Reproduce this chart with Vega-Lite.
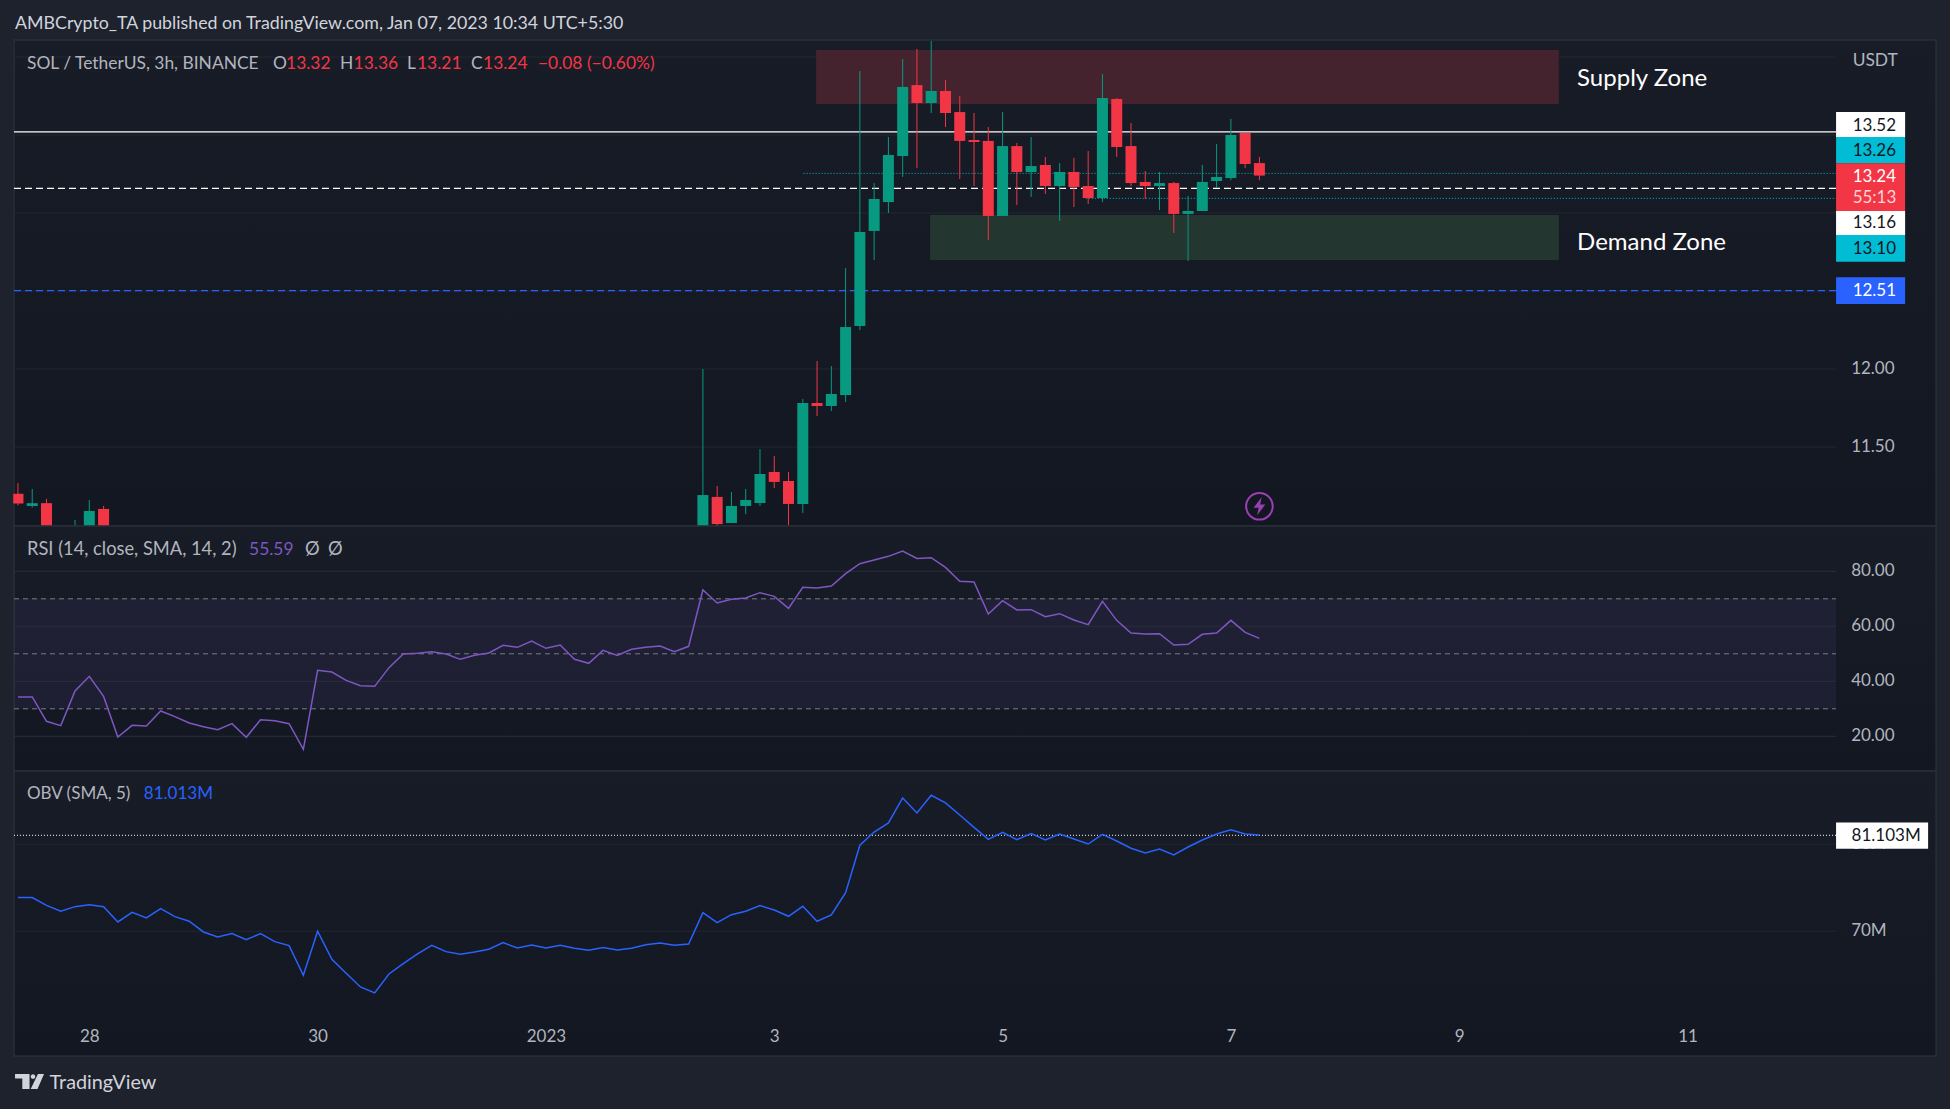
{
  "$schema": "https://vega.github.io/schema/vega-lite/v6.json",
  "width": 1950,
  "height": 1109,
  "autosize": {"type": "none"},
  "padding": 0,
  "background": "#1e222d",
  "config": {
    "view": {"stroke": null},
    "text": {"font": "Lato"},
    "axis": {"labelFont": "Lato", "labelFontSize": 17, "labelColor": "#b2b5be", "domain": false, "ticks": false, "grid": false, "title": null, "labelOverlap": false, "labelFlush": false}
  },
  "datasets": {
    "candles": [
      {"t":"2022-12-27T09:00Z","o":11.2,"h":11.27,"l":11.125,"c":11.138},
      {"t":"2022-12-27T12:00Z","o":11.122,"h":11.231,"l":11.112,"c":11.14},
      {"t":"2022-12-27T15:00Z","o":11.14,"h":11.167,"l":10.995,"c":10.995},
      {"t":"2022-12-27T21:00Z","o":10.995,"h":11.032,"l":10.995,"c":10.995},
      {"t":"2022-12-28T00:00Z","o":10.995,"h":11.16,"l":10.995,"c":11.09},
      {"t":"2022-12-28T03:00Z","o":11.103,"h":11.122,"l":10.995,"c":10.995},
      {"t":"2023-01-02T09:00Z","o":10.994,"h":12.0,"l":10.994,"c":11.192},
      {"t":"2023-01-02T12:00Z","o":11.18,"h":11.25,"l":10.994,"c":11.006},
      {"t":"2023-01-02T15:00Z","o":11.013,"h":11.212,"l":11.013,"c":11.122},
      {"t":"2023-01-02T18:00Z","o":11.122,"h":11.231,"l":11.07,"c":11.16},
      {"t":"2023-01-02T21:00Z","o":11.141,"h":11.487,"l":11.122,"c":11.327},
      {"t":"2023-01-03T00:00Z","o":11.34,"h":11.442,"l":11.237,"c":11.276},
      {"t":"2023-01-03T03:00Z","o":11.282,"h":11.34,"l":11.0,"c":11.135},
      {"t":"2023-01-03T06:00Z","o":11.135,"h":11.808,"l":11.077,"c":11.782},
      {"t":"2023-01-03T09:00Z","o":11.782,"h":12.051,"l":11.699,"c":11.763},
      {"t":"2023-01-03T12:00Z","o":11.763,"h":12.019,"l":11.731,"c":11.84},
      {"t":"2023-01-03T15:00Z","o":11.833,"h":12.647,"l":11.788,"c":12.269},
      {"t":"2023-01-03T18:00Z","o":12.276,"h":13.91,"l":12.25,"c":12.878},
      {"t":"2023-01-03T21:00Z","o":12.885,"h":13.192,"l":12.699,"c":13.09},
      {"t":"2023-01-04T00:00Z","o":13.07,"h":13.487,"l":13.0,"c":13.372},
      {"t":"2023-01-04T03:00Z","o":13.365,"h":13.987,"l":13.231,"c":13.808},
      {"t":"2023-01-04T06:00Z","o":13.82,"h":14.051,"l":13.288,"c":13.705},
      {"t":"2023-01-04T09:00Z","o":13.705,"h":14.103,"l":13.641,"c":13.782},
      {"t":"2023-01-04T12:00Z","o":13.782,"h":13.853,"l":13.551,"c":13.641},
      {"t":"2023-01-04T15:00Z","o":13.647,"h":13.75,"l":13.218,"c":13.462},
      {"t":"2023-01-04T18:00Z","o":13.468,"h":13.641,"l":13.173,"c":13.455},
      {"t":"2023-01-04T21:00Z","o":13.462,"h":13.551,"l":12.827,"c":12.981},
      {"t":"2023-01-05T00:00Z","o":12.981,"h":13.647,"l":12.981,"c":13.429},
      {"t":"2023-01-05T03:00Z","o":13.429,"h":13.449,"l":13.051,"c":13.263},
      {"t":"2023-01-05T06:00Z","o":13.263,"h":13.487,"l":13.103,"c":13.301},
      {"t":"2023-01-05T09:00Z","o":13.308,"h":13.359,"l":13.122,"c":13.173},
      {"t":"2023-01-05T12:00Z","o":13.173,"h":13.32,"l":12.949,"c":13.263},
      {"t":"2023-01-05T15:00Z","o":13.263,"h":13.353,"l":13.038,"c":13.167},
      {"t":"2023-01-05T18:00Z","o":13.173,"h":13.397,"l":13.058,"c":13.096},
      {"t":"2023-01-05T21:00Z","o":13.096,"h":13.891,"l":13.07,"c":13.737},
      {"t":"2023-01-06T00:00Z","o":13.731,"h":13.737,"l":13.359,"c":13.423},
      {"t":"2023-01-06T03:00Z","o":13.429,"h":13.577,"l":13.173,"c":13.192},
      {"t":"2023-01-06T06:00Z","o":13.199,"h":13.269,"l":13.09,"c":13.173},
      {"t":"2023-01-06T09:00Z","o":13.173,"h":13.263,"l":13.019,"c":13.192},
      {"t":"2023-01-06T12:00Z","o":13.192,"h":13.199,"l":12.872,"c":12.994},
      {"t":"2023-01-06T15:00Z","o":12.994,"h":13.109,"l":12.692,"c":13.013},
      {"t":"2023-01-06T18:00Z","o":13.013,"h":13.308,"l":13.013,"c":13.199},
      {"t":"2023-01-06T21:00Z","o":13.205,"h":13.442,"l":13.16,"c":13.231},
      {"t":"2023-01-07T00:00Z","o":13.224,"h":13.603,"l":13.21,"c":13.5},
      {"t":"2023-01-07T03:00Z","o":13.513,"h":13.513,"l":13.288,"c":13.314},
      {"t":"2023-01-07T06:00Z","o":13.32,"h":13.36,"l":13.21,"c":13.24}
    ],
    "indicators": [
      {"t":"2022-12-27T09:00Z","rsi":34.3,"obv":73.87},
      {"t":"2022-12-27T12:00Z","rsi":34.3,"obv":73.87},
      {"t":"2022-12-27T15:00Z","rsi":25.45,"obv":72.98},
      {"t":"2022-12-27T18:00Z","rsi":23.87,"obv":72.3},
      {"t":"2022-12-27T21:00Z","rsi":36.47,"obv":72.83},
      {"t":"2022-12-28T00:00Z","rsi":41.8,"obv":73.06},
      {"t":"2022-12-28T03:00Z","rsi":34.5,"obv":72.83},
      {"t":"2022-12-28T06:00Z","rsi":19.75,"obv":71.07},
      {"t":"2022-12-28T09:00Z","rsi":24,"obv":72.18},
      {"t":"2022-12-28T12:00Z","rsi":23.75,"obv":71.53},
      {"t":"2022-12-28T15:00Z","rsi":29.2,"obv":72.6},
      {"t":"2022-12-28T18:00Z","rsi":27.14,"obv":71.68},
      {"t":"2022-12-28T21:00Z","rsi":24.84,"obv":71.15},
      {"t":"2022-12-29T00:00Z","rsi":23.5,"obv":69.92},
      {"t":"2022-12-29T03:00Z","rsi":22.41,"obv":69.34},
      {"t":"2022-12-29T06:00Z","rsi":24.59,"obv":69.73},
      {"t":"2022-12-29T09:00Z","rsi":19.63,"obv":69.04},
      {"t":"2022-12-29T12:00Z","rsi":26.05,"obv":69.73},
      {"t":"2022-12-29T15:00Z","rsi":25.68,"obv":68.81},
      {"t":"2022-12-29T18:00Z","rsi":24.59,"obv":68.35},
      {"t":"2022-12-29T21:00Z","rsi":15.26,"obv":64.94},
      {"t":"2022-12-30T00:00Z","rsi":43.99,"obv":70.0},
      {"t":"2022-12-30T03:00Z","rsi":43.38,"obv":66.78},
      {"t":"2022-12-30T06:00Z","rsi":40.35,"obv":65.17},
      {"t":"2022-12-30T09:00Z","rsi":38.41,"obv":63.6},
      {"t":"2022-12-30T12:00Z","rsi":38.17,"obv":62.91},
      {"t":"2022-12-30T15:00Z","rsi":44.96,"obv":65.09},
      {"t":"2022-12-30T18:00Z","rsi":49.93,"obv":66.28},
      {"t":"2022-12-30T21:00Z","rsi":50.17,"obv":67.39},
      {"t":"2022-12-31T00:00Z","rsi":50.77,"obv":68.39},
      {"t":"2022-12-31T03:00Z","rsi":49.93,"obv":67.66},
      {"t":"2022-12-31T06:00Z","rsi":47.99,"obv":67.35},
      {"t":"2022-12-31T09:00Z","rsi":49.44,"obv":67.62},
      {"t":"2022-12-31T12:00Z","rsi":50.29,"obv":67.93},
      {"t":"2022-12-31T15:00Z","rsi":53.08,"obv":68.69},
      {"t":"2022-12-31T18:00Z","rsi":52.35,"obv":68.08},
      {"t":"2022-12-31T21:00Z","rsi":54.65,"obv":68.43},
      {"t":"2023-01-01T00:00Z","rsi":51.99,"obv":68.08},
      {"t":"2023-01-01T03:00Z","rsi":53.2,"obv":68.39},
      {"t":"2023-01-01T06:00Z","rsi":47.99,"obv":68.05},
      {"t":"2023-01-01T09:00Z","rsi":46.53,"obv":67.82},
      {"t":"2023-01-01T12:00Z","rsi":51.26,"obv":68.12},
      {"t":"2023-01-01T15:00Z","rsi":49.44,"obv":67.85},
      {"t":"2023-01-01T18:00Z","rsi":51.63,"obv":68.05},
      {"t":"2023-01-01T21:00Z","rsi":52.35,"obv":68.46},
      {"t":"2023-01-02T00:00Z","rsi":52.84,"obv":68.66},
      {"t":"2023-01-02T03:00Z","rsi":50.77,"obv":68.39},
      {"t":"2023-01-02T06:00Z","rsi":52.72,"obv":68.54},
      {"t":"2023-01-02T09:00Z","rsi":73.2,"obv":72.14},
      {"t":"2023-01-02T12:00Z","rsi":68.47,"obv":70.99},
      {"t":"2023-01-02T15:00Z","rsi":69.8,"obv":71.91},
      {"t":"2023-01-02T18:00Z","rsi":70.3,"obv":72.3},
      {"t":"2023-01-02T21:00Z","rsi":72.23,"obv":72.95},
      {"t":"2023-01-03T00:00Z","rsi":70.9,"obv":72.45},
      {"t":"2023-01-03T03:00Z","rsi":66.53,"obv":71.72},
      {"t":"2023-01-03T06:00Z","rsi":74.17,"obv":72.87},
      {"t":"2023-01-03T09:00Z","rsi":73.93,"obv":71.15},
      {"t":"2023-01-03T12:00Z","rsi":74.65,"obv":71.87},
      {"t":"2023-01-03T15:00Z","rsi":79.14,"obv":74.44},
      {"t":"2023-01-03T18:00Z","rsi":82.77,"obv":79.89},
      {"t":"2023-01-03T21:00Z","rsi":84.1,"obv":81.41},
      {"t":"2023-01-04T00:00Z","rsi":85.44,"obv":82.45},
      {"t":"2023-01-04T03:00Z","rsi":87.38,"obv":85.32},
      {"t":"2023-01-04T06:00Z","rsi":84.7,"obv":83.6},
      {"t":"2023-01-04T09:00Z","rsi":84.96,"obv":85.63},
      {"t":"2023-01-04T12:00Z","rsi":81.44,"obv":84.75},
      {"t":"2023-01-04T15:00Z","rsi":76.35,"obv":83.37},
      {"t":"2023-01-04T18:00Z","rsi":76.1,"obv":81.95},
      {"t":"2023-01-04T21:00Z","rsi":64.47,"obv":80.57},
      {"t":"2023-01-05T00:00Z","rsi":69.32,"obv":81.38},
      {"t":"2023-01-05T03:00Z","rsi":65.93,"obv":80.53},
      {"t":"2023-01-05T06:00Z","rsi":66.05,"obv":81.22},
      {"t":"2023-01-05T09:00Z","rsi":63.5,"obv":80.49},
      {"t":"2023-01-05T12:00Z","rsi":64.59,"obv":81.18},
      {"t":"2023-01-05T15:00Z","rsi":62.29,"obv":80.61},
      {"t":"2023-01-05T18:00Z","rsi":60.59,"obv":80.03},
      {"t":"2023-01-05T21:00Z","rsi":69.08,"obv":81.15},
      {"t":"2023-01-06T00:00Z","rsi":62.17,"obv":80.38},
      {"t":"2023-01-06T03:00Z","rsi":57.56,"obv":79.54},
      {"t":"2023-01-06T06:00Z","rsi":57.2,"obv":79.0},
      {"t":"2023-01-06T09:00Z","rsi":57.32,"obv":79.46},
      {"t":"2023-01-06T12:00Z","rsi":53.2,"obv":78.77},
      {"t":"2023-01-06T15:00Z","rsi":53.44,"obv":79.69},
      {"t":"2023-01-06T18:00Z","rsi":57.08,"obv":80.49},
      {"t":"2023-01-06T21:00Z","rsi":57.56,"obv":81.18},
      {"t":"2023-01-07T00:00Z","rsi":62.17,"obv":81.68},
      {"t":"2023-01-07T03:00Z","rsi":57.81,"obv":81.18},
      {"t":"2023-01-07T06:00Z","rsi":55.59,"obv":81.07}
    ],
    "days": [
      {"t":"2022-12-28T00:00Z"},{"t":"2022-12-30T00:00Z"},{"t":"2023-01-01T00:00Z"},{"t":"2023-01-03T00:00Z"},
      {"t":"2023-01-05T00:00Z"},{"t":"2023-01-07T00:00Z"},{"t":"2023-01-09T00:00Z"},{"t":"2023-01-11T00:00Z"}
    ]
  },
  "encoding": {
    "x": {
      "field": "t",
      "type": "temporal",
      "scale": {"type": "utc", "padding": 0, "domain": ["2022-12-27T05:13:26Z", "2023-01-13T07:11:10Z"]},
      "axis": {
        "orient": "bottom",
        "zindex": 1,
        "values": ["2022-12-28T00:00:00Z","2022-12-30T00:00:00Z","2023-01-01T00:00:00Z","2023-01-03T00:00:00Z","2023-01-05T00:00:00Z","2023-01-07T00:00:00Z","2023-01-09T00:00:00Z","2023-01-11T00:00:00Z"],
        "labelExpr": "utcdate(datum.value) == 1 ? '2023' : '' + utcdate(datum.value)",
        "labelPadding": -81
      }
    }
  },
  "layer": [
    {
      "encoding": {
        "y": {"field": "price", "type": "quantitative", "scale": {"domain": [7.2564, 14.3654], "zero": false, "nice": false}, "axis": null}
      },
      "layer": [
        {
          "data": {"values": [{"t":"2022-12-27T08:10Z","t2":"2023-01-13T04:16Z","price":14.109,"price2":10.994}]},
          "mark": {"type": "rect", "stroke": "#2a2e39", "strokeWidth": 1.5,
            "fill": {"gradient": "linear", "x1": 0, "y1": 0, "x2": 0, "y2": 1, "stops": [{"offset": 0, "color": "#181c27"}, {"offset": 1, "color": "#131722"}]}},
          "encoding": {"x2": {"field": "t2"}, "y2": {"field": "price2"}}
        },
        {
          "data": {"name": "days"},
          "mark": {"type": "rule", "color": "#22262f", "strokeWidth": 1},
          "encoding": {"y": {"datum": 14.109, "type": "quantitative"}, "y2": {"datum": 10.994}}
        },
        {
          "data": {"values": [
            {"price":14,"t":"2022-12-27T08:10Z","t2":"2023-01-12T07:14Z"},
            {"price":13.5,"t":"2022-12-27T08:10Z","t2":"2023-01-12T07:14Z"},
            {"price":13,"t":"2022-12-27T08:10Z","t2":"2023-01-12T07:14Z"},
            {"price":12.5,"t":"2022-12-27T08:10Z","t2":"2023-01-12T07:14Z"},
            {"price":12,"t":"2022-12-27T08:10Z","t2":"2023-01-12T07:14Z"},
            {"price":11.5,"t":"2022-12-27T08:10Z","t2":"2023-01-12T07:14Z"}
          ]},
          "mark": {"type": "rule", "color": "#22262f", "strokeWidth": 1},
          "encoding": {"x2": {"field": "t2"}}
        },
        {
          "data": {"values": [
            {"t":"2023-01-12T10:24Z","price":12,"label":"12.00"},
            {"t":"2023-01-12T10:24Z","price":11.5,"label":"11.50"}
          ]},
          "mark": {"type": "text", "align": "left", "baseline": "middle", "fontSize": 17, "color": "#b2b5be"},
          "encoding": {"text": {"field": "label"}}
        },
        {
          "data": {"values": [{"t":"2023-01-03T08:48Z","t2":"2023-01-09T20:57Z","price":14.045,"price2":13.699}]},
          "mark": {"type": "rect", "color": "#45232e"},
          "encoding": {"x2": {"field": "t2"}, "y2": {"field": "price2"}}
        },
        {
          "data": {"values": [{"t":"2023-01-04T08:46Z","t2":"2023-01-09T20:57Z","price":12.987,"price2":12.699}]},
          "mark": {"type": "rect", "color": "#233630"},
          "encoding": {"x2": {"field": "t2"}, "y2": {"field": "price2"}}
        },
        {
          "data": {"values": [{"price":13.52,"t":"2022-12-27T08:10Z","t2":"2023-01-12T07:14Z"}]},
          "mark": {"type": "rule", "color": "#ffffff", "strokeWidth": 1.3},
          "encoding": {"x2": {"field": "t2"}}
        },
        {
          "data": {"values": [{"price":13.158,"t":"2022-12-27T08:10Z","t2":"2023-01-12T07:14Z"}]},
          "mark": {"type": "rule", "color": "#ffffff", "strokeWidth": 1.3, "strokeDash": [7, 4]},
          "encoding": {"x2": {"field": "t2"}}
        },
        {
          "data": {"values": [{"price":12.502,"t":"2022-12-27T08:10Z","t2":"2023-01-12T07:14Z"}]},
          "mark": {"type": "rule", "color": "#2962ff", "strokeWidth": 1.3, "strokeDash": [7, 4]},
          "encoding": {"x2": {"field": "t2"}}
        },
        {
          "data": {"values": [
            {"price":13.254,"t":"2023-01-03T06:10Z","t2":"2023-01-12T07:14Z"},
            {"price":13.094,"t":"2023-01-05T17:30Z","t2":"2023-01-12T07:14Z"}
          ]},
          "mark": {"type": "rule", "color": "#00bcd4", "strokeWidth": 1, "strokeDash": [1, 2]},
          "encoding": {"x2": {"field": "t2"}}
        },
        {
          "data": {"name": "candles"},
          "mark": {"type": "rule", "strokeWidth": 1},
          "encoding": {
            "y": {"field": "l", "type": "quantitative"},
            "y2": {"field": "h"},
            "color": {"condition": {"test": "datum.c >= datum.o", "value": "#089981"}, "value": "#f23645"}
          }
        },
        {
          "data": {"name": "candles"},
          "mark": {"type": "bar", "size": 11},
          "encoding": {
            "y": {"field": "o", "type": "quantitative"},
            "y2": {"field": "c"},
            "color": {"condition": {"test": "datum.c >= datum.o", "value": "#089981"}, "value": "#f23645"}
          }
        },
        {
          "data": {"values": [{"t":"2022-12-27T05:13:26Z","t2":"2022-12-27T08:00Z","price":14.109,"price2":10.9}]},
          "mark": {"type": "rect", "color": "#1e222d"},
          "encoding": {"x2": {"field": "t2"}, "y2": {"field": "price2"}}
        },
        {
          "data": {"values": [
            {"t":"2023-01-12T07:14Z","t2":"2023-01-12T21:45Z","price":13.647,"price2":13.487,"kind":"last"},
            {"t":"2023-01-12T07:14Z","t2":"2023-01-12T21:45Z","price":13.487,"price2":13.319,"kind":"level"},
            {"t":"2023-01-12T07:14Z","t2":"2023-01-12T21:45Z","price":13.319,"price2":13.013,"kind":"close"},
            {"t":"2023-01-12T07:14Z","t2":"2023-01-12T21:45Z","price":13.013,"price2":12.859,"kind":"last"},
            {"t":"2023-01-12T07:14Z","t2":"2023-01-12T21:45Z","price":12.859,"price2":12.688,"kind":"level"},
            {"t":"2023-01-12T07:14Z","t2":"2023-01-12T21:45Z","price":12.588,"price2":12.417,"kind":"blue"}
          ]},
          "mark": {"type": "rect"},
          "encoding": {
            "x2": {"field": "t2"},
            "y2": {"field": "price2"},
            "color": {"field": "kind", "type": "nominal", "legend": null,
              "scale": {"domain": ["last", "level", "close", "blue"], "range": ["#ffffff", "#00bcd4", "#f23645", "#2962ff"]}}
          }
        },
        {
          "data": {"values": [
            {"t":"2023-01-12T10:43Z","price":13.558,"label":"13.52"},
            {"t":"2023-01-12T10:43Z","price":13.399,"label":"13.26"},
            {"t":"2023-01-12T10:43Z","price":12.938,"label":"13.16"},
            {"t":"2023-01-12T10:43Z","price":12.769,"label":"13.10"}
          ]},
          "mark": {"type": "text", "align": "left", "baseline": "middle", "fontSize": 17, "color": "#131722"},
          "encoding": {"text": {"field": "label"}}
        },
        {
          "data": {"values": [
            {"t":"2023-01-12T10:43Z","price":13.233,"label":"13.24"},
            {"t":"2023-01-12T10:43Z","price":12.5,"label":"12.51"}
          ]},
          "mark": {"type": "text", "align": "left", "baseline": "middle", "fontSize": 17, "color": "#ffffff"},
          "encoding": {"text": {"field": "label"}}
        },
        {
          "data": {"values": [{"t":"2023-01-12T10:43Z","price":13.098,"label":"55:13"}]},
          "mark": {"type": "text", "align": "left", "baseline": "middle", "fontSize": 17, "color": "#fbd5d8"},
          "encoding": {"text": {"field": "label"}}
        },
        {
          "data": {"values": [
            {"t":"2023-01-10T00:47Z","price":13.859,"label":"Supply Zone"},
            {"t":"2023-01-10T00:47Z","price":12.81,"label":"Demand Zone"}
          ]},
          "mark": {"type": "text", "align": "left", "baseline": "middle", "fontSize": 24, "color": "#ffffff"},
          "encoding": {"text": {"field": "label"}}
        },
        {
          "data": {"values": [
            {"t":"2022-12-27T08:23Z","price":14.212,"label":"AMBCrypto_TA published on TradingView.com, Jan 07, 2023 10:34 UTC+5:30"}
          ]},
          "mark": {"type": "text", "align": "left", "baseline": "middle", "fontSize": 17.8, "color": "#d1d4dc"},
          "encoding": {"text": {"field": "label"}}
        },
        {
          "data": {"values": [
            {"t":"2022-12-27T15:39Z","price":7.423,"label":"TradingView"}
          ]},
          "mark": {"type": "text", "align": "left", "baseline": "middle", "fontSize": 19.8, "color": "#d1d4dc"},
          "encoding": {"text": {"field": "label"}}
        },
        {
          "data": {"values": [
            {"t":"2022-12-27T10:54Z","price":13.955,"label":"SOL / TetherUS, 3h, BINANCE"},
            {"t":"2022-12-29T14:37Z","price":13.955,"label":"O"},
            {"t":"2022-12-30T04:43Z","price":13.955,"label":"H"},
            {"t":"2022-12-30T18:48Z","price":13.955,"label":"L"},
            {"t":"2022-12-31T08:15Z","price":13.955,"label":"C"},
            {"t":"2023-01-12T10:43Z","price":13.976,"label":"USDT"}
          ]},
          "mark": {"type": "text", "align": "left", "baseline": "middle", "fontSize": 17.4, "color": "#b2b5be"},
          "encoding": {"text": {"field": "label"}}
        },
        {
          "data": {"values": [
            {"t":"2022-12-29T17:22Z","price":13.955,"label":"13.32"},
            {"t":"2022-12-30T07:34Z","price":13.955,"label":"13.36"},
            {"t":"2022-12-30T20:54Z","price":13.955,"label":"13.21"},
            {"t":"2022-12-31T10:47Z","price":13.955,"label":"13.24"},
            {"t":"2022-12-31T22:20Z","price":13.955,"label":"−0.08 (−0.60%)"}
          ]},
          "mark": {"type": "text", "align": "left", "baseline": "middle", "fontSize": 17.4, "color": "#f23645"},
          "encoding": {"text": {"field": "label"}}
        },
        {
          "data": {"values": [{"t":"2022-12-27T11:26Z","price":7.433}]},
          "mark": {"type": "point", "filled": true, "opacity": 1, "color": "#d1d4dc", "size": 841,
            "shape": "M-1,-.517L0,-.517L0,.517L-.5,.517L-.5,-.207L-1,-.207ZM.08,-.34a.16,.16 0 1,0 .32,0a.16,.16 0 1,0 -.32,0ZM.58,-.517L1,-.517L.55,.517L.08,.517Z"}
        },
        {
          "data": {"values": [{"t":"2023-01-07T06:00Z","price":11.12}]},
          "mark": {"type": "point", "shape": "circle", "filled": false, "opacity": 1, "color": "#9c3fb5", "strokeWidth": 2, "size": 707}
        },
        {
          "data": {"values": [{"t":"2023-01-07T06:00Z","price":11.12}]},
          "mark": {"type": "point", "filled": true, "opacity": 1, "color": "#9c3fb5", "size": 324,
            "shape": "M.25,-1L-.65,.15L-.08,.15L-.25,1L.65,-.2L.08,-.2Z"}
        }
      ]
    },
    {
      "encoding": {
        "y": {"field": "rsi", "type": "quantitative", "scale": {"domain": [-115.53, 287.75], "zero": false, "nice": false}, "axis": null}
      },
      "layer": [
        {
          "data": {"values": [{"t":"2022-12-27T08:10Z","t2":"2023-01-13T04:16Z","rsi":96.47,"rsi2":7.38}]},
          "mark": {"type": "rect", "stroke": "#2a2e39", "strokeWidth": 1.5,
            "fill": {"gradient": "linear", "x1": 0, "y1": 0, "x2": 0, "y2": 1, "stops": [{"offset": 0, "color": "#181c27"}, {"offset": 1, "color": "#131722"}]}},
          "encoding": {"x2": {"field": "t2"}, "y2": {"field": "rsi2"}}
        },
        {
          "data": {"values": [{"t":"2022-12-27T08:10Z","t2":"2023-01-12T07:14Z","rsi":70,"rsi2":30}]},
          "mark": {"type": "rect", "color": "#7e57c2", "opacity": 0.1},
          "encoding": {"x2": {"field": "t2"}, "y2": {"field": "rsi2"}}
        },
        {
          "data": {"name": "days"},
          "mark": {"type": "rule", "color": "#22262f", "strokeWidth": 1},
          "encoding": {"y": {"datum": 96.47, "type": "quantitative"}, "y2": {"datum": 7.38}}
        },
        {
          "data": {"values": [
            {"rsi":80,"t":"2022-12-27T08:10Z","t2":"2023-01-12T07:14Z"},
            {"rsi":60,"t":"2022-12-27T08:10Z","t2":"2023-01-12T07:14Z"},
            {"rsi":40,"t":"2022-12-27T08:10Z","t2":"2023-01-12T07:14Z"},
            {"rsi":20,"t":"2022-12-27T08:10Z","t2":"2023-01-12T07:14Z"}
          ]},
          "mark": {"type": "rule", "color": "#2a2e39", "strokeWidth": 1},
          "encoding": {"x2": {"field": "t2"}}
        },
        {
          "data": {"values": [
            {"rsi":70,"t":"2022-12-27T08:10Z","t2":"2023-01-12T07:14Z"},
            {"rsi":50,"t":"2022-12-27T08:10Z","t2":"2023-01-12T07:14Z"},
            {"rsi":30,"t":"2022-12-27T08:10Z","t2":"2023-01-12T07:14Z"}
          ]},
          "mark": {"type": "rule", "color": "#787b86", "strokeWidth": 1, "strokeDash": [5, 4]},
          "encoding": {"x2": {"field": "t2"}}
        },
        {
          "data": {"values": [
            {"t":"2023-01-12T10:24Z","rsi":80,"label":"80.00"},
            {"t":"2023-01-12T10:24Z","rsi":60,"label":"60.00"},
            {"t":"2023-01-12T10:24Z","rsi":40,"label":"40.00"},
            {"t":"2023-01-12T10:24Z","rsi":20,"label":"20.00"}
          ]},
          "mark": {"type": "text", "align": "left", "baseline": "middle", "fontSize": 17, "color": "#b2b5be"},
          "encoding": {"text": {"field": "label"}}
        },
        {
          "data": {"name": "indicators"},
          "mark": {"type": "line", "color": "#7e57c2", "strokeWidth": 1.5, "interpolate": "linear"}
        },
        {
          "data": {"values": [{"t":"2022-12-27T10:54Z","rsi":87.75,"label":"RSI (14, close, SMA, 14, 2)"},
            {"t":"2022-12-29T21:21Z","rsi":87.75,"label":"Ø"},
            {"t":"2022-12-30T02:11Z","rsi":87.75,"label":"Ø"}]},
          "mark": {"type": "text", "align": "left", "baseline": "middle", "fontSize": 18.3, "color": "#b2b5be"},
          "encoding": {"text": {"field": "label"}}
        },
        {
          "data": {"values": [{"t":"2022-12-29T09:35Z","rsi":87.75,"label":"55.59"}]},
          "mark": {"type": "text", "align": "left", "baseline": "middle", "fontSize": 17.4, "color": "#7e57c2"},
          "encoding": {"text": {"field": "label"}}
        }
      ]
    },
    {
      "encoding": {
        "y": {"field": "obv", "type": "quantitative", "scale": {"domain": [49.57, 177.05], "zero": false, "nice": false}, "axis": null}
      },
      "layer": [
        {
          "data": {"values": [{"t":"2022-12-27T08:10Z","t2":"2023-01-13T04:16Z","obv":88.43,"obv2":55.67}]},
          "mark": {"type": "rect", "stroke": "#2a2e39", "strokeWidth": 1.5,
            "fill": {"gradient": "linear", "x1": 0, "y1": 0, "x2": 0, "y2": 1, "stops": [{"offset": 0, "color": "#181c27"}, {"offset": 1, "color": "#131722"}]}},
          "encoding": {"x2": {"field": "t2"}, "y2": {"field": "obv2"}}
        },
        {
          "data": {"name": "days"},
          "mark": {"type": "rule", "color": "#22262f", "strokeWidth": 1},
          "encoding": {"y": {"datum": 88.43, "type": "quantitative"}, "y2": {"datum": 60.7}}
        },
        {
          "data": {"values": [
            {"obv":80,"t":"2022-12-27T08:10Z","t2":"2023-01-12T07:14Z"},
            {"obv":70,"t":"2022-12-27T08:10Z","t2":"2023-01-12T07:14Z"}
          ]},
          "mark": {"type": "rule", "color": "#22262f", "strokeWidth": 1},
          "encoding": {"x2": {"field": "t2"}}
        },
        {
          "data": {"values": [{"obv":81.034,"t":"2022-12-27T08:10Z","t2":"2023-01-12T07:14Z"}]},
          "mark": {"type": "rule", "color": "#ffffff", "strokeWidth": 1, "strokeDash": [1, 2]},
          "encoding": {"x2": {"field": "t2"}}
        },
        {
          "data": {"name": "indicators"},
          "mark": {"type": "line", "color": "#2962ff", "strokeWidth": 1.5}
        },
        {
          "data": {"values": [
            {"t":"2023-01-12T10:24Z","obv":80,"label":"80M"},
            {"t":"2023-01-12T10:24Z","obv":70,"label":"70M"}
          ]},
          "mark": {"type": "text", "align": "left", "baseline": "middle", "fontSize": 17, "color": "#b2b5be"},
          "encoding": {"text": {"field": "label"}}
        },
        {
          "data": {"values": [{"t":"2023-01-12T07:14Z","t2":"2023-01-13T02:35Z","obv":82.506,"obv2":79.494}]},
          "mark": {"type": "rect", "color": "#ffffff"},
          "encoding": {"x2": {"field": "t2"}, "y2": {"field": "obv2"}}
        },
        {
          "data": {"values": [{"t":"2023-01-12T10:30Z","obv":80.977,"label":"81.103M"}]},
          "mark": {"type": "text", "align": "left", "baseline": "middle", "fontSize": 17, "color": "#131722"},
          "encoding": {"text": {"field": "label"}}
        },
        {
          "data": {"values": [{"t":"2022-12-27T10:54Z","obv":85.78,"label":"OBV (SMA, 5)"}]},
          "mark": {"type": "text", "align": "left", "baseline": "middle", "fontSize": 17, "color": "#b2b5be"},
          "encoding": {"text": {"field": "label"}}
        },
        {
          "data": {"values": [{"t":"2022-12-28T11:28Z","obv":85.78,"label":"81.013M"}]},
          "mark": {"type": "text", "align": "left", "baseline": "middle", "fontSize": 17, "color": "#2962ff"},
          "encoding": {"text": {"field": "label"}}
        }
      ]
    }
  ],
  "resolve": {"scale": {"y": "independent"}}
}
